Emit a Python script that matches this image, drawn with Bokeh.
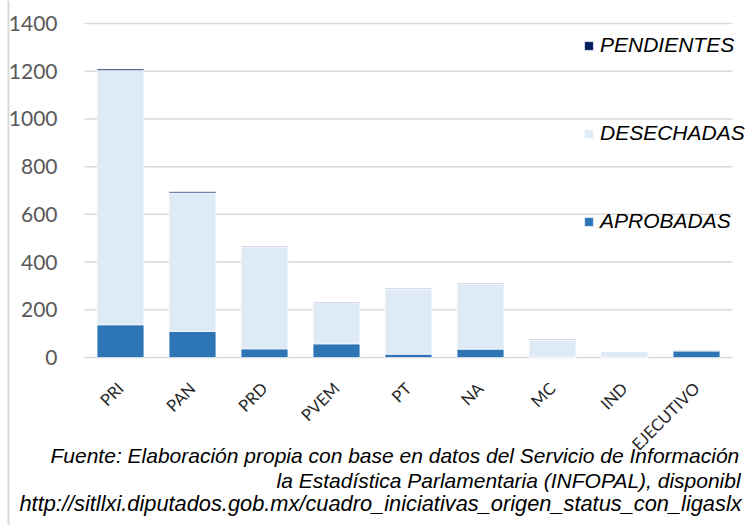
from bokeh.plotting import figure
from bokeh.models import Range1d, Legend, LegendItem, Label, FixedTicker, Span
from bokeh.embed import file_html
from bokeh.resources import INLINE

# ---- data ----
partidos = ["PRI", "PAN", "PRD", "PVEM", "PT", "NA", "MC", "IND", "EJECUTIVO"]
aprobadas = [137, 109, 36, 57, 14, 35, 1, 0, 27]
desechadas = [1066, 581, 428, 173, 273, 273, 72, 26, 3]
pendientes = [6, 5, 2, 2, 2, 2, 2, 0, 1]
y_ticks = [0, 200, 400, 600, 800, 1000, 1200, 1400]
series = ["aprobadas", "desechadas", "pendientes"]
series_labels = ["APROBADAS", "DESECHADAS", "PENDIENTES"]
colors = ["#2E75B6", "#DEEAF6", "#002060"]
fuente = [
    "Fuente: Elaboración propia con base en datos del Servicio de Información",
    "la Estadística Parlamentaria (INFOPAL), disponibl",
    "http://sitllxi.diputados.gob.mx/cuadro_iniciativas_origen_status_con_ligaslx",
]

# ---- layout (pixels) ----
W, H = 750, 525
PLOT_LEFT, PLOT_TOP, PLOT_BOTTOM = 84, 23, 357
PX_PER_CAT = 72
PX_PER_UNIT = (PLOT_BOTTOM - PLOT_TOP) / 1400

n = len(partidos)
xpos = [i + 0.5 for i in range(n)]
source = dict(x=xpos, partido=partidos, aprobadas=aprobadas,
              desechadas=desechadas, pendientes=pendientes)

p = figure(
    x_range=Range1d(-PLOT_LEFT / PX_PER_CAT, (W - PLOT_LEFT) / PX_PER_CAT),
    y_range=Range1d(-(H - PLOT_BOTTOM) / PX_PER_UNIT, 1400 + PLOT_TOP / PX_PER_UNIT),
    width=W, height=H,
    output_backend="svg", toolbar_location=None,
    min_border=0, min_border_left=0, min_border_right=0,
    min_border_top=0, min_border_bottom=0,
)
p.outline_line_color = None
p.background_fill_color = "white"
p.border_fill_color = "white"

# gridlines (only across the category area)
p.segment(x0=[0] * len(y_ticks), x1=[n] * len(y_ticks), y0=y_ticks, y1=y_ticks,
          line_color="#D9D9D9", line_width=1.5)

renderers = p.vbar_stack(series, x="x", width=0.65, color=colors,
                         line_color="white", line_width=0.6, source=source)

# axes, drawn at the data origin
p.yaxis.fixed_location = 0
p.yaxis.ticker = FixedTicker(ticks=y_ticks)
p.yaxis.axis_line_color = None
p.yaxis.major_tick_line_color = None
p.yaxis.minor_tick_line_color = None
p.yaxis.major_label_text_font = "Lato"
p.yaxis.major_label_text_font_size = "21px"
p.yaxis.major_label_text_color = "#595959"
p.yaxis.major_label_standoff = 21

p.xaxis.fixed_location = 0
p.xaxis.ticker = FixedTicker(ticks=xpos)
p.xaxis.major_label_overrides = {x: name for x, name in zip(xpos, partidos)}
p.xaxis.axis_line_color = None
p.xaxis.major_tick_line_color = None
p.xaxis.minor_tick_line_color = None
p.xaxis.major_label_orientation = 0.785398
p.xaxis.major_label_text_font = "Lato"
p.xaxis.major_label_text_font_size = "16.5px"
p.xaxis.major_label_text_color = "#262626"
p.xaxis.major_label_standoff = 22

p.xgrid.grid_line_color = None
p.ygrid.grid_line_color = None

# thin page border at the left
p.add_layout(Span(location=(8 - PLOT_LEFT) / PX_PER_CAT, dimension="height",
                  line_color="#D9D9D9", line_width=2))

# legend
items = [LegendItem(label=series_labels[i], renderers=[renderers[i]]) for i in (2, 1, 0)]
legend = Legend(items=items, location=(583, H - PLOT_BOTTOM + 124), orientation="vertical",
                glyph_width=11, glyph_height=11, label_height=20,
                spacing=64, padding=0, margin=0, label_standoff=6,
                label_text_font="Liberation Sans", label_text_font_style="italic",
                label_text_font_size="21px", label_text_color="#000000",
                background_fill_alpha=0, border_line_color=None)
p.add_layout(legend)

# footnote
fx = [50, 276, 19]
fy = [455, 480, 503]
sizes = ["21px", "21px", "21.8px"]
for t, x, y, fs in zip(fuente, fx, fy, sizes):
    p.add_layout(Label(x=(x - PLOT_LEFT) / PX_PER_CAT, y=(PLOT_BOTTOM - y) / PX_PER_UNIT,
                       text=t, text_font="Liberation Sans", text_font_style="italic",
                       text_font_size=fs, text_color="#000000",
                       text_baseline="middle", text_align="left"))

open("out.html", "w").write(file_html(p, INLINE))
